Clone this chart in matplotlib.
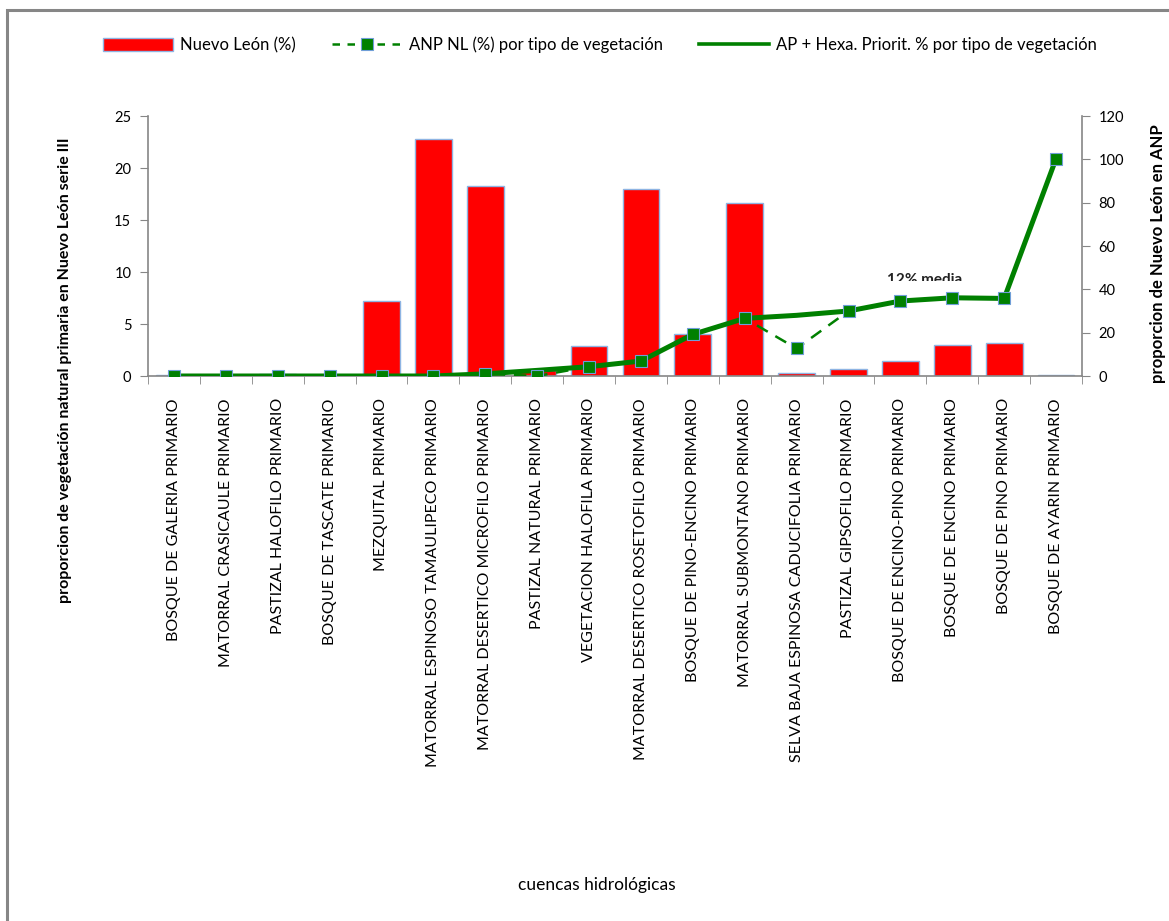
import matplotlib.pyplot as plt
from matplotlib.patches import Rectangle
from matplotlib.lines import Line2D
from matplotlib.transforms import Bbox, TransformedBbox

plt.rcParams['font.family'] = ['Lato', 'DejaVu Sans']

categorias = [
    "BOSQUE DE GALERIA PRIMARIO",
    "MATORRAL CRASICAULE PRIMARIO",
    "PASTIZAL HALOFILO PRIMARIO",
    "BOSQUE DE TASCATE PRIMARIO",
    "MEZQUITAL PRIMARIO",
    "MATORRAL ESPINOSO TAMAULIPECO PRIMARIO",
    "MATORRAL DESERTICO MICROFILO PRIMARIO",
    "PASTIZAL NATURAL PRIMARIO",
    "VEGETACION HALOFILA PRIMARIO",
    "MATORRAL DESERTICO ROSETOFILO PRIMARIO",
    "BOSQUE DE PINO-ENCINO PRIMARIO",
    "MATORRAL SUBMONTANO PRIMARIO",
    "SELVA BAJA ESPINOSA CADUCIFOLIA PRIMARIO",
    "PASTIZAL GIPSOFILO PRIMARIO",
    "BOSQUE DE ENCINO-PINO PRIMARIO",
    "BOSQUE DE ENCINO PRIMARIO",
    "BOSQUE DE PINO PRIMARIO",
    "BOSQUE DE AYARIN PRIMARIO",
]
nuevo_leon = [0.05, 0.05, 0.2, 0.05, 7.2, 22.8, 18.3, 0.6, 2.9, 17.95,
              4.05, 16.6, 0.32, 0.64, 1.47, 2.94, 3.17, 0.1]
anp_nl = [0, 0, 0, 0, 0, 0, 1.0, 0, 4.3, 6.9,
          19.2, 26.6, 12.7, 30.0, 34.6, 36.1, 35.8, 100.3]
ap_hexa = [0, 0, 0, 0, 0, 0, 1.0, 2.6, 4.3, 6.9,
           19.2, 26.6, 28.0, 30.0, 34.6, 36.1, 35.8, 100.3]

rojo = "#FF0000"
verde = "#008000"
borde = "#8EB4E3"
gris = "#868686"

fig = plt.figure(figsize=(11.69, 9.21), dpi=100)
fig.patches.append(Rectangle((7 / 1169, -0.1), 1.2, 1.1 - 10 / 921,
                             transform=fig.transFigure, fill=False,
                             edgecolor=gris, linewidth=2.2))

ax = fig.add_axes([148 / 1169, 1 - 376 / 921, (1082 - 148) / 1169, (376 - 116) / 921])
x = list(range(len(categorias)))
ax.bar(x, nuevo_leon, width=0.71, color=rojo, edgecolor=borde, linewidth=1.0, zorder=2)
ax.set_xlim(-0.5, len(categorias) - 0.5)
ax.set_ylim(0, 25)
ax.set_yticks([0, 5, 10, 15, 20, 25])
ax.set_xticks(x)
ax.set_xticklabels(categorias, rotation=90, va='top', ha='center', fontsize=11.5)
ax.set_xticks([i - 0.5 for i in range(len(categorias) + 1)], minor=True)
ax.tick_params(axis='x', which='major', length=0, pad=16)
ax.tick_params(axis='x', which='minor', length=6, color=gris, direction='out')
ax.tick_params(axis='y', length=6, color=gris, labelsize=10.5, pad=6)
for s in ['top', 'right']:
    ax.spines[s].set_visible(False)
for s in ['left', 'bottom']:
    ax.spines[s].set_color(gris)
    ax.spines[s].set_linewidth(1.2)

ax2 = ax.twinx()
ax2.set_ylim(0, 120)
ax2.set_yticks([0, 20, 40, 60, 80, 100, 120])
ax2.tick_params(axis='y', length=6, color=gris, labelsize=10.5, pad=6)
for s in ['top', 'left', 'bottom']:
    ax2.spines[s].set_visible(False)
ax2.spines['right'].set_color(gris)
ax2.spines['right'].set_linewidth(1.2)

ax2.plot(x, anp_nl, color=verde, linewidth=1.8, dashes=(5, 3.5),
         marker='s', markersize=9, markerfacecolor=verde,
         markeredgecolor='#6F9ED8', markeredgewidth=0.8, zorder=3)
ax2.plot(x, ap_hexa, color=verde, linewidth=3.6, zorder=2,
         solid_joinstyle='round')

t = ax2.text(14.47, 47.6, "12% media", ha='center', va='top',
             fontsize=11, fontweight='bold', color='#222222')
t.set_clip_box(TransformedBbox(Bbox([[12, 43.8], [17, 60]]), ax2.transData))
t.set_clip_on(True)

handles = [
    Rectangle((0, 0), 1, 1, facecolor=rojo, edgecolor=borde, linewidth=1.0),
    Line2D([], [], color=verde, linewidth=1.8, dashes=(3, 3), marker='s',
           markersize=9, markerfacecolor=verde, markeredgecolor='#6F9ED8',
           markeredgewidth=0.8),
    Line2D([], [], color=verde, linewidth=2.6),
]
labels = ["Nuevo León (%)", "ANP NL (%) por tipo de vegetación",
          "AP + Hexa. Priorit. % por tipo de vegetación"]
fig.legend(handles, labels, loc='center', bbox_to_anchor=(600 / 1169, 1 - 45 / 921),
           ncol=3, frameon=False, fontsize=12, handlelength=4.2,
           handleheight=0.8, columnspacing=2.2, handletextpad=0.4)

fig.text(65 / 1169, 1 - 370 / 921,
         "proporcion de vegetación natural primaria en Nuevo León serie III",
         rotation=90, ha='center', va='center', fontsize=11.5, fontweight='bold')
fig.text(1158 / 1169, 1 - 254 / 921, "proporcion de Nuevo León en ANP",
         rotation=90, ha='center', va='center', fontsize=12, fontweight='bold')
fig.text(597 / 1169, 1 - 885 / 921, "cuencas hidrológicas",
         ha='center', va='center', fontsize=12.5)

fig.savefig("out.png", dpi=100)
